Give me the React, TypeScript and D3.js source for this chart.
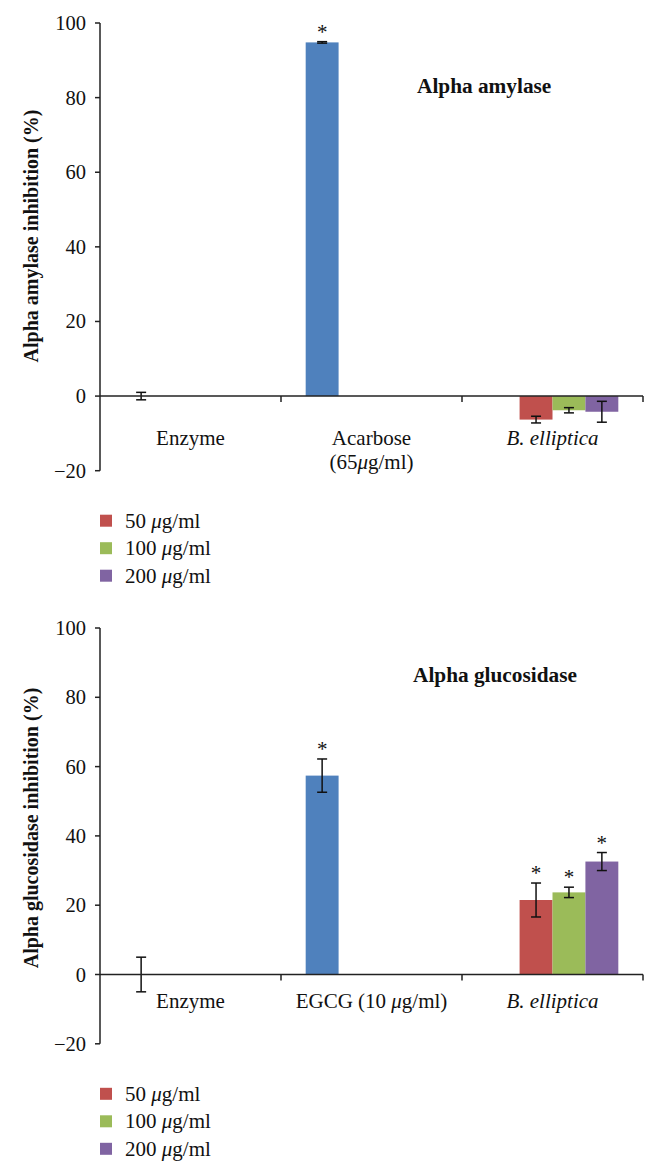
import React from "react";
import * as d3 from "d3";

// ---------- data ----------
const seriesNames = ["Control", "50 μg/ml", "100 μg/ml", "200 μg/ml"];
const seriesColors = ["#4F81BD", "#C0504D", "#9BBB59", "#8064A2"];
const yTicks = [-20, 0, 20, 40, 60, 80, 100];

// Alpha amylase
const amylaseCategories = ["Enzyme", "Acarbose\n(65μg/ml)", "B. elliptica"];
const amylaseControl = [0, 94.8, null];
const amylaseControlErr = [1.0, 0.2, null];
const amylase50 = [null, null, -6.3];
const amylase50Err = [null, null, 0.9];
const amylase100 = [null, null, -3.8];
const amylase100Err = [null, null, 0.7];
const amylase200 = [null, null, -4.2];
const amylase200Err = [null, null, 2.8];
const amylaseStars = [
  [false, true, false],
  [false, false, false],
  [false, false, false],
  [false, false, false],
];

// Alpha glucosidase
const glucoCategories = ["Enzyme", "EGCG (10 μg/ml)", "B. elliptica"];
const glucoControl = [0, 57.4, null];
const glucoControlErr = [5.0, 4.8, null];
const gluco50 = [null, null, 21.5];
const gluco50Err = [null, null, 4.9];
const gluco100 = [null, null, 23.7];
const gluco100Err = [null, null, 1.5];
const gluco200 = [null, null, 32.6];
const gluco200Err = [null, null, 2.6];
const glucoStars = [
  [false, true, false],
  [false, false, true],
  [false, false, true],
  [false, false, true],
];

const FONT = "'Liberation Serif', 'Times New Roman', serif";
const X0 = 100;
const X1 = 643;

function MuText({ text }: { text: string }) {
  const parts = text.split("μ");
  const out: any[] = [];
  parts.forEach((p, i) => {
    if (i > 0) out.push(<tspan key={"m" + i} fontStyle="italic">μ</tspan>);
    if (p) out.push(<tspan key={"p" + i}>{p}</tspan>);
  });
  return <>{out}</>;
}

type ChartProps = {
  yTop: number;
  yBot: number;
  categories: string[];
  values: (number | null)[][];
  errors: (number | null)[][];
  stars: boolean[][];
  title: string;
  titleX: number;
  titleY: number;
  yTitle: string;
  yTitleCy: number;
  labelDy: number;
};

function Chart(p: ChartProps) {
  const y = d3.scaleLinear().domain([-20, 100]).range([p.yBot, p.yTop]);
  const xCat = d3.scaleBand<number>().domain(d3.range(p.categories.length)).range([X0, X1]).padding(0);
  const xSer = d3
    .scaleBand<number>()
    .domain(d3.range(seriesNames.length))
    .range([0, xCat.bandwidth()])
    .paddingInner(0)
    .paddingOuter(0.75);
  const y0 = y(0);
  const bw = xSer.bandwidth();

  const marks: any[] = [];
  p.values.forEach((vals, s) => {
    vals.forEach((v, c) => {
      if (v == null) return;
      const x = (xCat(c) as number) + (xSer(s) as number);
      const cx = x + bw / 2;
      if (v !== 0) {
        marks.push(
          <rect
            key={`b${s}-${c}`}
            x={x}
            y={Math.min(y(v), y0)}
            width={bw}
            height={Math.abs(y(v) - y0)}
            fill={seriesColors[s]}
          />
        );
      }
      const e = p.errors[s][c];
      if (e != null) {
        const ya = y(v + e);
        const yb = y(v - e);
        marks.push(
          <g key={`e${s}-${c}`} stroke="#111" strokeWidth={1.5}>
            <line x1={cx} x2={cx} y1={ya} y2={yb} />
            <line x1={cx - 5} x2={cx + 5} y1={ya} y2={ya} />
            <line x1={cx - 5} x2={cx + 5} y1={yb} y2={yb} />
          </g>
        );
      }
      if (p.stars[s][c]) {
        const top = y(v + (e || 0));
        marks.push(
          <text key={`s${s}-${c}`} x={cx} y={top - 3} textAnchor="middle" fontSize={21} fill="#111">
            *
          </text>
        );
      }
    });
  });

  const catBounds = [X0, ...p.categories.map((_, i) => (xCat(i) as number) + xCat.bandwidth())];

  return (
    <g fontFamily={FONT}>
      {/* y axis */}
      <line x1={X0} x2={X0} y1={y(100)} y2={y(-20)} stroke="#222" strokeWidth={1.5} />
      {yTicks.map((t) => (
        <g key={t}>
          <line x1={X0 - 5} x2={X0} y1={y(t)} y2={y(t)} stroke="#222" strokeWidth={1.5} />
          <text x={X0 - 14} y={y(t) + 7} textAnchor="end" fontSize={20.5} fill="#111">
            {t < 0 ? "\u2212" + Math.abs(t) : String(t)}
          </text>
        </g>
      ))}
      {marks}
      {/* x axis */}
      <line x1={X0} x2={X1} y1={y0} y2={y0} stroke="#222" strokeWidth={1.5} />
      {catBounds.slice(1).map((b, i) => (
        <line key={i} x1={b} x2={b} y1={y0} y2={y0 + 6} stroke="#222" strokeWidth={1.5} />
      ))}
      {p.categories.map((c, i) => {
        const cx = (xCat(i) as number) + xCat.bandwidth() / 2;
        const italic = c.startsWith("B.");
        return c.split("\n").map((line, j) => (
          <text
            key={`${i}-${j}`}
            x={cx}
            y={y0 + p.labelDy + j * 24}
            textAnchor="middle"
            fontSize={21}
            fill="#111"
            fontStyle={italic ? "italic" : "normal"}
          >
            <MuText text={line} />
          </text>
        ));
      })}
      {/* titles */}
      <text x={p.titleX} y={p.titleY} fontSize={21.3} fontWeight="bold" fill="#111">
        {p.title}
      </text>
      <text
        transform={`translate(38,${p.yTitleCy}) rotate(-90)`}
        textAnchor="middle"
        fontSize={20}
        fontWeight="bold"
        fill="#111"
      >
        {p.yTitle}
      </text>
      {/* legend */}
      {seriesNames.slice(1).map((n, i) => {
        const cy = y(-20) + 50 + i * 27.5;
        return (
          <g key={n}>
            <rect x={100} y={cy - 6} width={12} height={12} fill={seriesColors[i + 1]} />
            <text x={125} y={cy + 7} fontSize={21} fill="#111">
              <MuText text={n} />
            </text>
          </g>
        );
      })}
    </g>
  );
}

export default function App() {
  return (
    <svg
      width={658}
      height={1175}
      style={{ position: "absolute", left: 0, top: 0, background: "#fff" }}
    >
      <rect width={658} height={1175} fill="#fff" />
      <Chart
        yTop={23}
        yBot={470.7}
        categories={amylaseCategories}
        values={[amylaseControl, amylase50, amylase100, amylase200]}
        errors={[amylaseControlErr, amylase50Err, amylase100Err, amylase200Err]}
        stars={amylaseStars}
        title="Alpha amylase"
        titleX={417}
        titleY={93}
        yTitle="Alpha amylase inhibition (%)"
        yTitleCy={236}
        labelDy={49}
      />
      <Chart
        yTop={628}
        yBot={1043.8}
        categories={glucoCategories}
        values={[glucoControl, gluco50, gluco100, gluco200]}
        errors={[glucoControlErr, gluco50Err, gluco100Err, gluco200Err]}
        stars={glucoStars}
        title="Alpha glucosidase"
        titleX={413}
        titleY={682}
        yTitle="Alpha glucosidase inhibition (%)"
        yTitleCy={828}
        labelDy={33.5}
      />
    </svg>
  );
}
